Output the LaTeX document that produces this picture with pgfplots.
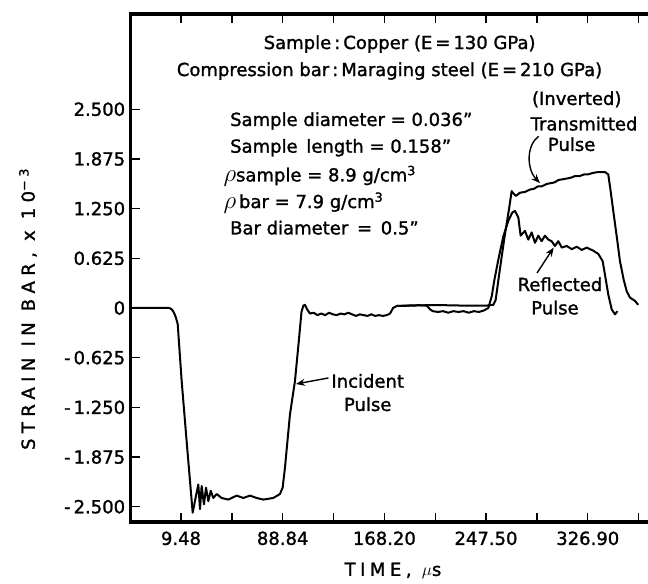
\documentclass[border=0pt]{standalone}
\usepackage{fontspec}
\setmainfont{DejaVu Sans}[FakeBold=1.4]
\usepackage{pgfplots}
\pgfplotsset{compat=1.18}
\usetikzlibrary{arrows.meta}

% Incident pulse, followed on the same gauge by the reflected pulse
\pgfplotstableread{
t s
-29.5 0.0
-10 0.0
0.4 0.0
2.5 -0.02
4 -0.06
5.5 -0.12
6.9 -0.2
10 -0.92
14 -1.70
18.6 -2.575
21.2 -2.36
23.0 -2.22
24.3 -2.53
25.6 -2.24
27.4 -2.47
29.0 -2.26
30.8 -2.43
32.7 -2.30
34.7 -2.39
37.3 -2.34
41.2 -2.39
46.4 -2.41
52.9 -2.36
58.1 -2.39
63.3 -2.36
68.5 -2.39
73.7 -2.41
81.5 -2.39
86.7 -2.34
88.8 -2.26
90.6 -2.01
94.5 -1.34
98.4 -0.92
101.5 -0.40
103.5 -0.05
105 0.03
106.2 0.04
108 -0.02
110.1 -0.07
113 -0.06
116 -0.09
119 -0.07
122 -0.09
125 -0.06
128 -0.08
131 -0.09
134 -0.07
137 -0.08
140 -0.06
143 -0.08
146 -0.10
149 -0.08
152 -0.09
155 -0.10
158 -0.08
161 -0.10
164 -0.09
167 -0.10
170 -0.09
172.6 -0.07
175 0.0
177.8 0.025
185 0.03
195 0.035
201.2 0.03
204 -0.02
206 -0.04
210 -0.05
214 -0.04
218 -0.06
222 -0.04
226 -0.05
230 -0.04
234 -0.06
238 -0.04
242 -0.05
246 -0.03
249.3 0.0
252 0.15
254 0.35
257 0.60
261 0.90
265 1.10
268 1.20
270.1 1.22
272.7 1.14
274.5 0.91
277.9 0.97
280.5 0.86
283.1 0.95
285.7 0.82
288.3 0.91
290.9 0.84
293.5 0.91
296.1 0.86
298.7 0.84
301.3 0.78
303.9 0.84
306.6 0.76
310.5 0.78
314.4 0.74
318.3 0.77
322.2 0.73
326.1 0.76
331.2 0.72
335.1 0.68
338.5 0.59
340.3 0.42
342.9 0.17
345.6 -0.02
348.2 -0.08
350.0 -0.04
}\incident

% Transmitted pulse (inverted)
\pgfplotstableread{
t s
177.8 0.025
190 0.03
201.2 0.035
215 0.035
230 0.03
248 0.03
253.2 0.04
255 0.10
258 0.45
262 0.90
265.5 1.25
267.5 1.47
268.3 1.45
270.9 1.41
274 1.45
278 1.46
281.8 1.49
285 1.50
288 1.53
291 1.53
294.8 1.56
298 1.57
301 1.58
304 1.61
307.8 1.62
311 1.63
314 1.64
317 1.66
320.8 1.66
324 1.68
327 1.68
331.2 1.70
335 1.71
340.3 1.71
342.9 1.68
344.5 1.50
346.8 1.22
349.5 0.90
352 0.59
355 0.35
357.3 0.21
359.9 0.13
363.7 0.09
366.3 0.04
}\transmitted

\begin{document}
\begin{tikzpicture}[font=\fontsize{18}{21}\selectfont]
\begin{axis}[
  name=ax,
  scale only axis,
  width=517.3pt, height=508pt,
  xmin=-29.77, xmax=373.9,
  ymin=-2.692, ymax=3.698,
  axis x line*=box, axis y line*=left,
  axis line style={draw=none},
  every tick/.style={black, line width=1.4pt},
  tick align=inside,
  major tick length=9pt,
  xtick={9.48,49.16,88.84,128.52,168.20,207.85,247.50,287.20,326.90,366.58},
  xticklabels={9.48,,88.84,,168.20,,247.50,,326.90,},
  ytick={-2.5,-1.875,-1.25,-0.625,0,0.625,1.25,1.875,2.5},
  yticklabels={-\,2.500,-\,1.875,-\,1.250,-\,0.625,0,0.625,1.250,1.875,2.500},
  xticklabel style={font=\fontsize{18}{21}\selectfont, yshift=-6pt},
  yticklabel style={font=\fontsize{18}{21}\selectfont, xshift=-2pt},
]
\addplot[black, line width=2pt, line join=round] table[x=t, y=s] {\incident};
\addplot[black, line width=2pt, line join=round] table[x=t, y=s] {\transmitted};

% Header
\node at (axis cs:180.1,3.32) {Sample\,:\,Copper (E\,=\,130 GPa)};
\node at (axis cs:172.2,2.98) {Compression bar\,:\,Maraging steel (E\,=\,210 GPa)};

% Test parameters
\node[anchor=west] at (axis cs:45.1,2.352) {Sample diameter = 0.036"};
\node[anchor=west] at (axis cs:45.1,2.016) {Sample\, length = 0.158"};
\node[anchor=west] at (axis cs:39.9,1.660) {{\fontsize{27}{27}\selectfont$\rho$}sample = 8.9 g/cm\textsuperscript{3}};
\node[anchor=west] at (axis cs:39.9,1.325) {{\fontsize{27}{27}\selectfont$\rho$}\,bar = 7.9 g/cm\textsuperscript{3}};
\node[anchor=west] at (axis cs:45.1,1.010) {Bar diameter \,= \,0.5"};

% Pulse labels
\node at (axis cs:318.3,2.625) {(Inverted)};
\node at (axis cs:324.0,2.318) {Transmitted};
\node at (axis cs:314.3,2.060) {Pulse};
\draw[line width=1.4pt, -{Stealth[length=9pt, width=7pt]}]
  (axis cs:288.6,2.16) .. controls (axis cs:279,2.05) and (axis cs:279,1.75) .. (axis cs:289.6,1.57);

\node at (axis cs:305.2,0.298) {Reflected};
\node at (axis cs:301.3,0.004) {Pulse};
\draw[line width=1.4pt, -{Stealth[length=9pt, width=7pt]}]
  (axis cs:287.3,0.44) -- (axis cs:300.3,0.76);

\node at (axis cs:155.2,-0.918) {Incident};
\node at (axis cs:155.2,-1.211) {Pulse};
\draw[line width=1.4pt, -{Stealth[length=9pt, width=7pt]}]
  (axis cs:124.6,-0.88) -- (axis cs:99.2,-0.956);
\end{axis}

% Frame: top, left and bottom
\draw[line width=3.2pt, line cap=rect]
  (ax.north east) -- (ax.north west) -- (ax.south west) -- (ax.south east);

% Axis titles
\node[rotate=90] at ([xshift=-102.7pt, yshift=213pt]ax.south west)
  {\addfontfeature{LetterSpace=30}STRAIN IN BAR, x 10\textsuperscript{−3}};
\node at ([xshift=262.3pt, yshift=-49pt]ax.south west)
  {\addfontfeature{LetterSpace=25}TIME, $\mu$s};

\pgfresetboundingbox
\path[use as bounding box] ([xshift=-130.7pt, yshift=-62pt]ax.south west) rectangle ([yshift=14pt]ax.north east);
\end{tikzpicture}
\end{document}
